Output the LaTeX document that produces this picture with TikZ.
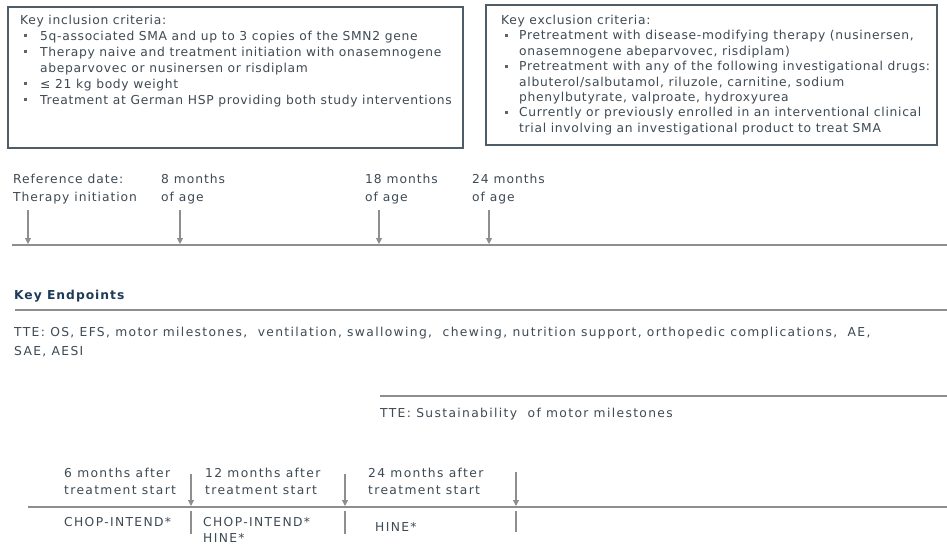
\documentclass[tikz,border=0pt]{standalone}
\usepackage{fontspec}
\setmainfont{DejaVu Sans}
\newfontfamily\boxfont{DejaVu Sans}[LetterSpace=5.6]
\newfontfamily\agefont{DejaVu Sans}[LetterSpace=7.8]
\newfontfamily\tlfont{DejaVu Sans}[LetterSpace=11]
\newfontfamily\headfont{DejaVu Sans}[LetterSpace=8]
\usetikzlibrary{arrows.meta}
\definecolor{txt}{HTML}{3E4A54}
\definecolor{rulegray}{HTML}{8E8E8E}
\definecolor{frame}{HTML}{4F5D69}
\definecolor{head}{HTML}{1F3B57}
\begin{document}
\begin{tikzpicture}[x=1pt,y=-1pt,
  lbl/.style={anchor=base west, inner sep=0pt, text=txt, font=\boxfont\fontsize{12.3}{14}\selectfont},
  agelbl/.style={lbl, font=\agefont\fontsize{12.3}{14}\selectfont},
  tllbl/.style={lbl, font=\tlfont\fontsize{12.3}{14}\selectfont},
  bul/.style={fill=txt!85, minimum size=3pt, inner sep=0pt, draw=none},
  critbox/.style={draw=frame, line width=1.1pt},
  axis/.style={draw=rulegray, line width=1.6pt},
  tickarrow/.style={draw=rulegray, line width=1.1pt, -{Triangle[width=6pt,length=6pt]}},
  tickline/.style={draw=rulegray, line width=1.1pt},
  endline/.style={draw=rulegray, line width=1.2pt, -{Triangle[width=6pt,length=6pt]}},
]
\useasboundingbox (0,0) rectangle (947,548);
\fill[white] (0,0) rectangle (947,548);

% ---------- inclusion criteria ----------
\draw[critbox] (8,7) rectangle (463,148);
\node[lbl] (inT) at (20,24.5) {Key inclusion criteria:};
\node[bul] (inB1) at (25,36) {};
\node[lbl] (in1) at (40,40.5) {5q-associated SMA and up to 3 copies of the SMN2 gene};
\node[bul] (inB2) at (25,52) {};
\node[lbl] (in2) at (40,56.5) {Therapy naive and treatment initiation with onasemnogene};
\node[lbl] (in2b) at (40,72.5) {abeparvovec or nusinersen or risdiplam};
\node[bul] (inB3) at (25,84) {};
\node[lbl] (in3) at (40,88.5) {≤ 21 kg body weight};
\node[bul] (inB4) at (25,100) {};
\node[lbl] (in4) at (40,104.5) {Treatment at German HSP providing both study interventions};

% ---------- exclusion criteria ----------
\draw[critbox] (486,5) rectangle (937,145);
\node[lbl] (exT) at (501,24.5) {Key exclusion criteria:};
\node[bul] (exB1) at (506,35.4) {};
\node[lbl] (ex1) at (519,39.9) {Pretreatment with disease-modifying therapy (nusinersen,};
\node[lbl] (ex1b) at (519,55.3) {onasemnogene abeparvovec, risdiplam)};
\node[bul] (exB2) at (506,66.2) {};
\node[lbl] (ex2) at (519,70.7) {Pretreatment with any of the following investigational drugs:};
\node[lbl] (ex2b) at (519,86.1) {albuterol/salbutamol, riluzole, carnitine, sodium};
\node[lbl] (ex2c) at (519,101.5) {phenylbutyrate, valproate, hydroxyurea};
\node[bul] (exB3) at (506,112.4) {};
\node[lbl] (ex3) at (519,116.9) {Currently or previously enrolled in an interventional clinical};
\node[lbl] (ex3b) at (519,132.3) {trial involving an investigational product to treat SMA};

% ---------- age timeline ----------
\coordinate (ageL) at (12,245);
\coordinate (ageR) at (947,245);
\draw[axis] (ageL) -- (ageR);
\node[agelbl] (a0) at (13,183.5) {Reference date:};
\node[agelbl] (a0b) at (13,201.5) {Therapy initiation};
\node[agelbl] (a8) at (161,183.5) {8 months};
\node[agelbl] (a8b) at (161,201.5) {of age};
\node[agelbl] (a18) at (365,183.5) {18 months};
\node[agelbl] (a18b) at (365,201.5) {of age};
\node[agelbl] (a24) at (472,183.5) {24 months};
\node[agelbl] (a24b) at (472,201.5) {of age};
\foreach \x/\n in {28/r0,180/r8,379/r18,489/r24}{
  \coordinate (\n top) at (\x,210);
  \coordinate (\n bot) at (\x,244);
  \draw[tickarrow] (\n top) -- (\n bot);
}

% ---------- key endpoints ----------
\node[anchor=base west, inner sep=0pt, text=head, font=\headfont\fontsize{12.3}{14}\selectfont\bfseries] (ke) at (14,299.5) {Key Endpoints};
\coordinate (e1L) at (15,310);
\coordinate (e1R) at (953,310);
\draw[endline] (e1L) -- (e1R);
\node[tllbl] (tte1) at (14,336.5) {TTE: OS, EFS, motor milestones,\ \ ventilation, swallowing,\ \ chewing, nutrition support, orthopedic complications,\ \ AE,};
\node[tllbl] (tte1b) at (14,355.5) {SAE, AESI};
\coordinate (e2L) at (380,396);
\coordinate (e2R) at (953,396);
\draw[endline] (e2L) -- (e2R);
\node[tllbl] (tte2) at (380,417.5) {TTE: Sustainability\ \ of motor milestones};

% ---------- assessment timeline ----------
\coordinate (asL) at (28,507);
\coordinate (asR) at (953,507);
\draw[endline] (asL) -- (asR);
\node[tllbl] (m6) at (64,477.5) {6 months after};
\node[tllbl] (m6b) at (64,494.5) {treatment start};
\node[tllbl] (m12) at (205,477.5) {12 months after};
\node[tllbl] (m12b) at (205,494.5) {treatment start};
\node[tllbl] (m24) at (368,477.5) {24 months after};
\node[tllbl] (m24b) at (368,494.5) {treatment start};
\foreach \x/\n/\t/\b in {191/s6/474/534,345/s12/474/534,516/s24/472/532}{
  \coordinate (\n top) at (\x,\t);
  \coordinate (\n bot) at (\x,506);
  \coordinate (\n low) at (\x,511);
  \coordinate (\n end) at (\x,\b);
  \draw[tickarrow] (\n top) -- (\n bot);
  \draw[tickline] (\n low) -- (\n end);
}
\node[tllbl] (c6) at (64,526.5) {CHOP-INTEND*};
\node[tllbl] (c12) at (203,526.5) {CHOP-INTEND*};
\node[tllbl] (h12) at (203,542.5) {HINE*};
\node[tllbl] (h24) at (375,531.5) {HINE*};
\end{tikzpicture}
\end{document}
